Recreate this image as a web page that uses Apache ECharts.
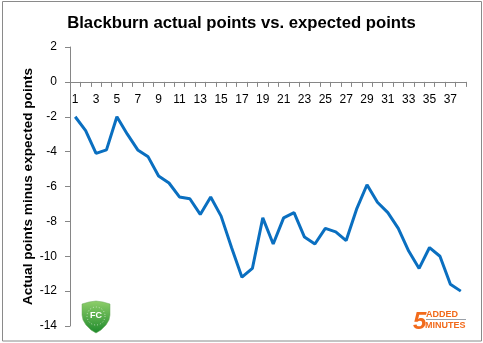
<!DOCTYPE html>
<html><head><meta charset="utf-8">
<script src="https://cdn.jsdelivr.net/npm/echarts@6/dist/echarts.min.js"></script>
<style>html,body{margin:0;padding:0;background:#fff}#c{width:483px;height:343px}</style>
</head><body><div id="c"></div>
<script>
const categories = Array.from({length:38},(_, i)=>String(i+1));
const diffValues = [-2.0,-2.8,-4.1,-3.9,-2.0,-3.0,-3.9,-4.3,-5.4,-5.8,-6.6,-6.7,-7.6,-6.6,-7.7,-9.5,-11.2,-10.7,-7.8,-9.3,-7.8,-7.5,-8.9,-9.3,-8.4,-8.6,-9.1,-7.3,-5.9,-6.9,-7.5,-8.4,-9.7,-10.7,-9.5,-10.0,-11.6,-12.0];
const yTicks = {min:-14, max:2, interval:2};
const FONT = 'Liberation Sans';
const GRID = {left:70,right:17,top:47,bottom:17};
const plotH = 343 - GRID.top - GRID.bottom;
// place the category axis on the value 0 line
const zeroOffset = -(yTicks.max - 0) / (yTicks.max - yTicks.min) * plotH;
const chart = echarts.init(document.getElementById('c'));
chart.setOption({
  animation:false,
  backgroundColor:'#fff',
  title:{text:'Blackburn actual points vs. expected points',left:'center',top:10,
    textStyle:{fontFamily:FONT,fontWeight:'bold',fontSize:16.7,color:'#000'}},
  grid:Object.assign({containLabel:false},GRID),
  xAxis:{type:'category',data:categories,boundaryGap:true,position:'top',offset:zeroOffset,
    axisLine:{onZero:false,lineStyle:{color:'#868686',width:1}},
    axisTick:{show:true,alignWithLabel:false,interval:0,length:5,inside:true,lineStyle:{color:'#868686'}},
    axisLabel:{interval:1,inside:true,color:'#000',fontFamily:FONT,fontSize:12,margin:12},
    splitLine:{show:false}},
  yAxis:{type:'value',min:yTicks.min,max:yTicks.max,interval:yTicks.interval,
    name:'Actual points minus expected points',nameLocation:'middle',nameGap:35,nameRotate:90,nameMoveOverlap:false,
    nameTextStyle:{fontFamily:FONT,fontWeight:'bold',fontSize:13.6,color:'#000'},
    axisLine:{show:true,lineStyle:{color:'#868686'}},
    axisTick:{show:true,length:5,lineStyle:{color:'#868686'}},
    axisLabel:{color:'#000',fontFamily:FONT,fontSize:12,margin:13},
    splitLine:{show:false}},
  series:[{type:'line',data:diffValues,symbol:'none',lineStyle:{color:'#0a6fc0',width:3},itemStyle:{color:'#0a6fc0'}}],
  graphic:[
    {type:'rect',shape:{x:2.5,y:1.5,width:479,height:339.5},style:{fill:'none',stroke:'#8a8a8a',lineWidth:1},silent:true},
    {type:'group',x:82,y:301,children:[
      {type:'polygon',shape:{points:[[0,3],[7,1],[14,0],[21,1],[28,3],[28,14],[27,19],[24,24],[19,29],[14,32],[9,29],[4,24],[1,19],[0,14]]},
       style:{fill:{type:'linear',x:0,y:0,x2:0,y2:1,colorStops:[{offset:0,color:'#8fcf6a'},{offset:1,color:'#1e8a2c'}]},stroke:'#6aa85a',lineWidth:0.5}},
      {type:'circle',shape:{cx:14,cy:15,r:9},style:{fill:'none',stroke:'rgba(255,255,255,0.6)',lineWidth:1,lineDash:[1,2]}},
      {type:'text',x:14,y:15,style:{text:'FC',fill:'#fff',font:'bold 9px Liberation Sans',align:'center',verticalAlign:'middle'}}
    ]},
    {type:'group',x:413,y:310,children:[
      {type:'text',x:0,y:0,style:{text:'5',fill:'#f26a1b',font:'bold italic 24px Liberation Sans',verticalAlign:'top'}},
      {type:'text',x:13,y:0,style:{text:'ADDED',fill:'#f26a1b',font:'bold 9px Liberation Sans',verticalAlign:'top'}},
      {type:'line',shape:{x1:13,y1:9.5,x2:53,y2:9.5},style:{stroke:'#9aa0a8',lineWidth:1}},
      {type:'text',x:12,y:11,style:{text:'MINUTES',fill:'#f26a1b',font:'bold 9px Liberation Sans',verticalAlign:'top'}}
    ]}
  ]
});
</script></body></html>
